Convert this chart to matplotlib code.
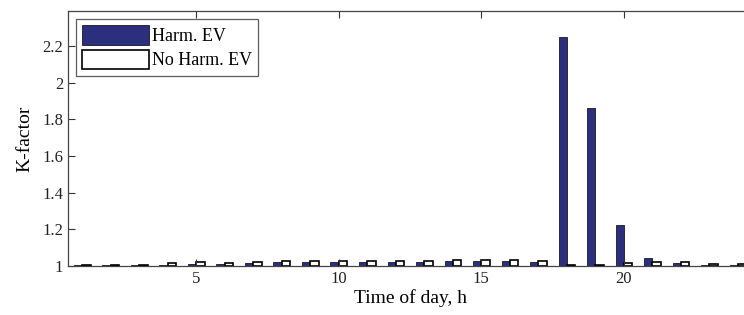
import matplotlib
matplotlib.use("Agg")
import matplotlib.pyplot as plt
import numpy as np

hours = list(range(1, 25))
harm_ev = [1.006, 1.006, 1.006, 1.006, 1.01, 1.01, 1.015, 1.02, 1.02, 1.02, 1.02, 1.02,
           1.02, 1.025, 1.025, 1.025, 1.02, 2.25, 1.86, 1.225, 1.045, 1.015, 1.008, 1.008]
no_harm_ev = [1.006, 1.006, 1.006, 1.018, 1.02, 1.015, 1.02, 1.027, 1.025, 1.025, 1.025, 1.025,
              1.025, 1.03, 1.032, 1.032, 1.025, 1.008, 1.008, 1.015, 1.02, 1.02, 1.012, 1.012]
xticks = [5, 10, 15, 20]
yticks = [1, 1.2, 1.4, 1.6, 1.8, 2, 2.2]
ytick_labels = ["1", "1.2", "1.4", "1.6", "1.8", "2", "2.2"]

plt.rcParams['font.family'] = ['Liberation Serif', 'DejaVu Serif']

fig = plt.figure(figsize=(7.44, 3.15), dpi=100)
ax = fig.add_axes([0.0914, 0.1556, 0.9194, 0.8094])

x = np.array(hours)
w = 0.29
base = 1.0
ax.bar(x - w / 2, np.array(harm_ev) - base, w, bottom=base, color='#2b2f7e',
       edgecolor='#1a1a1a', linewidth=0.6, label='Harm. EV')
ax.bar(x + w / 2, np.array(no_harm_ev) - base, w, bottom=base, color='white',
       edgecolor='black', linewidth=1.2, label='No Harm. EV')

ax.set_xlim(0.5, 24.5)
ax.set_ylim(1, 2.39)
ax.set_xticks(xticks)
ax.set_yticks(yticks)
ax.set_yticklabels(ytick_labels)
ax.tick_params(direction='in', top=True, right=True, labelsize=12, length=5, width=0.8,
               colors='#333333')
for t in ax.get_xticklabels() + ax.get_yticklabels():
    t.set_color('#222222')
for s in ax.spines.values():
    s.set_color('#444444')
    s.set_linewidth(0.9)

ax.set_xlabel('Time of day, h', fontsize=14, labelpad=2)
ax.set_ylabel('K-factor', fontsize=14, labelpad=6)

leg = ax.legend(loc='upper left', fontsize=13, frameon=True, fancybox=False,
                edgecolor='#333333', borderpad=0.35, handlelength=3.7, handleheight=1.25,
                handletextpad=0.15, labelspacing=0.25, borderaxespad=0.45)
leg.get_frame().set_linewidth(0.9)

fig.savefig('out.png', dpi=100)
